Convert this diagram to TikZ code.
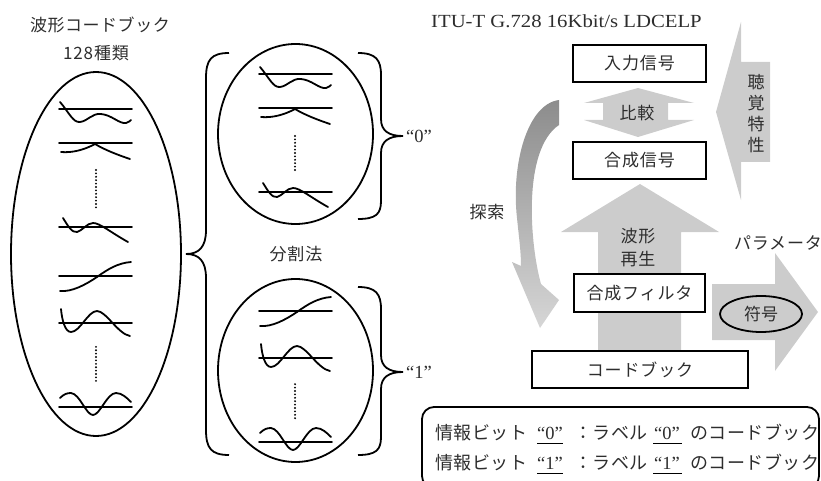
\documentclass[tikz,border=0pt]{standalone}
\usepackage{fontspec}
\usepackage{graphicx}
\setmainfont{Liberation Serif}
\newfontfamily\jp{Noto Sans CJK JP}
\usetikzlibrary{shapes.geometric}
\definecolor{agray}{RGB}{204,204,204}
\definecolor{txt}{RGB}{45,45,45}
\newcommand\wvone{\draw[wave] (59,109)--(132,109);
  \draw[wave] (60,102) .. controls (68,111) and (73,123) .. (80,122) .. controls (88,121) and (92,113) .. (101,114) .. controls (112,115) and (119,124) .. (126,123) .. controls (129,122) and (130,121) .. (131,120);}
\newcommand\wvtwo{\draw[wave] (59,143)--(132,143);
  \draw[wave] (61,152) .. controls (72,153) and (84,150) .. (95,144) .. controls (105,150) and (118,155) .. (130,159);}
\newcommand\wvthree{\draw[wave] (59,227)--(132,227);
  \draw[wave] (63,218) .. controls (68,226) and (72,233) .. (77,232) .. controls (82,231) and (87,223) .. (93,223) .. controls (100,223) and (110,232) .. (128,242);}
\newcommand\wvfour{\draw[wave] (59,276)--(132,276);
  \draw[wave] (60,291) .. controls (72,292) and (85,285) .. (97,277) .. controls (108,269) and (118,263) .. (131,262);}
\newcommand\wvfive{\draw[wave] (59,323)--(132,323);
  \draw[wave] (61,309) .. controls (62,320) and (65,332) .. (71,332) .. controls (80,332) and (88,311) .. (97,311) .. controls (106,311) and (118,334) .. (130,336);}
\newcommand\wvsix{\draw[wave] (59,407)--(132,407);
  \draw[wave] (60,398) .. controls (64,394) and (67,393) .. (71,393) .. controls (80,394) and (86,415) .. (93,415) .. controls (100,415) and (107,393) .. (116,393) .. controls (122,393) and (127,398) .. (131,402);}
\newcommand\dotcol[3]{\foreach \yy in {#2,...,#3} {\fill (#1,\yy*3.4) circle (1.05pt);}}
\begin{document}
\begin{tikzpicture}[x=1pt,y=-1pt,
  wave/.style={line width=1.8pt, line cap=round},
  ring/.style={ellipse, draw, line width=1.8pt, inner sep=0pt},
  brace/.style={line width=1.8pt},
  jt/.style={text=txt, inner sep=0pt, font=\jp\fontsize{17}{20}\selectfont\addfontfeatures{LetterSpace=5}},
  lt/.style={text=txt, inner sep=0pt, font=\fontsize{18.5}{20}\selectfont},
  boxn/.style={draw, line width=1.8pt, fill=white, inner sep=0pt, text=txt, font=\jp\fontsize{17}{20}\selectfont\addfontfeatures{LetterSpace=5}},
  arrowfill/.style={fill=agray, draw=none}
]
\useasboundingbox (0,0) rectangle (821,481);
% ---------- left: codebook ----------
\node[jt, font=\jp\fontsize{17}{20}\selectfont\addfontfeatures{LetterSpace=3}] (t1) at (100,25) {波形コードブック};
\node[jt] (t2) at (96,53) {128種類};
\node[ring, minimum width=170pt, minimum height=364pt] (big) at (96,254) {};
\wvone \wvtwo \wvthree \wvfour \wvfive \wvsix
\dotcol{96}{50}{61}
\dotcol{96}{102}{112}
% ---------- braces ----------
\coordinate (lbtip) at (186,254);
\draw[brace] (229,53) .. controls (211,53) and (206,60) .. (206,78) -- (206,230) .. controls (206,247) and (199,254) .. (lbtip) .. controls (199,254) and (206,261) .. (206,278) -- (206,430) .. controls (206,448) and (211,455) .. (229,455);
\coordinate (r0tip) at (403,136);
\draw[brace] (358,53) .. controls (376,53) and (381,60) .. (381,75) -- (381,119) .. controls (381,131) and (389,136) .. (r0tip) .. controls (389,136) and (381,141) .. (381,153) -- (381,201) .. controls (381,214) and (376,219) .. (358,219);
\coordinate (r1tip) at (403,372);
\draw[brace] (358,287) .. controls (376,287) and (381,294) .. (381,309) -- (381,355) .. controls (381,367) and (389,372) .. (r1tip) .. controls (389,372) and (381,377) .. (381,389) -- (381,437) .. controls (381,450) and (376,455) .. (358,455);
% ---------- split codebooks ----------
\node[ring, minimum width=155pt, minimum height=180pt] (cb0) at (295.5,134) {};
\node[ring, minimum width=155pt, minimum height=183pt] (cb1) at (295.5,370.5) {};
\begin{scope}[shift={(200,-35)}]
\wvone \wvtwo \wvthree
\end{scope}
\begin{scope}[shift={(200,35)}]
\wvfour \wvfive \wvsix
\end{scope}
\dotcol{295}{40}{50}
\dotcol{295}{113}{123}
\node[jt] (split) at (296,254) {分割法};
\node[lt, anchor=west] (l0) at (406,136) {“0”};
\node[lt, anchor=west] (l1) at (406,372) {“1”};
% ---------- right: LD-CELP ----------
\node[lt, anchor=west] (itu) at (431,21) {\scalebox{1.12}[1]{ITU-T G.728 16Kbit/s LDCELP}};
% auditory arrow
\fill[arrowfill] (716,112) -- (741,22) -- (741,62) -- (770,62) -- (770,162) -- (741,162) -- (741,200) -- cycle;
\node[jt] (ch1) at (756,82) {聴};
\node[jt] (ch2) at (756,103) {覚};
\node[jt] (ch3) at (756,124) {特};
\node[jt] (ch4) at (756,145) {性};
% compare arrow
\fill[arrowfill] (638,88) -- (694,103) -- (668,103) -- (668,120) -- (694,120) -- (638,137) -- (584,120) -- (603,120) -- (603,103) -- (584,103) -- cycle;
\node[jt] (cmp) at (637,113) {比較};
% big up arrow
\fill[arrowfill] (640,184) -- (719,232) -- (681,232) -- (681,360) -- (598,360) -- (598,232) -- (561,232) -- cycle;
\node[jt] (rep1) at (638,236) {波形};
\node[jt] (rep2) at (638,259) {再生};
% parameter arrow
\fill[arrowfill] (712,284) -- (775,284) -- (775,253) -- (818,312) -- (775,371) -- (775,340) -- (712,340) -- cycle;
\node[jt] (param) at (778,243) {パラメータ};
% search curved arrow
\shade[top color=black!45, bottom color=black!16, draw=none]
  (559,100) .. controls (527,104) and (511,165) .. (517,218)
  .. controls (519,238) and (521,252) .. (521,266)
  -- (512,262) -- (540,328) -- (559,300) -- (541,284)
  .. controls (530,245) and (522,150) .. (559,125) -- cycle;
\node[jt] (srch) at (487,212) {探索};
% boxes
\node[boxn, minimum width=133pt, minimum height=37pt] (inp) at (639.5,63.5) {入力信号};
\node[boxn, minimum width=133pt, minimum height=37pt] (syn) at (639.5,160.5) {合成信号};
\node[boxn, minimum width=131pt, minimum height=38pt] (filt) at (639.5,293) {合成フィルタ};
\node[boxn, minimum width=216pt, minimum height=37pt] (cbk) at (640,369.5) {コードブック};
\node[ring, fill=agray, minimum width=82pt, minimum height=36pt, text=txt, font=\jp\fontsize{17}{20}\selectfont] (code) at (761,314) {符号};
% ---------- legend ----------
\begin{scope}
\clip (0,0) rectangle (821,481);
\draw[line width=1.8pt, rounded corners=12pt] (422,407) rectangle (819,488);
\end{scope}
\tikzset{lg/.style={text=txt, inner sep=0pt, anchor=base west, font=\jp\fontsize{18}{20}\selectfont\addfontfeatures{LetterSpace=3}},
  lq/.style={text=txt, inner sep=0pt, anchor=base, font=\fontsize{18.5}{20}\selectfont}}
\node[lg] (a1) at (435,439) {情報ビット};
\node[lq] (a2) at (550,439) {“0”};
\node[lg] (a3) at (574,439) {：ラベル};
\node[lq] (a4) at (667,439) {“0”};
\node[lg] (a5) at (690,439) {のコードブック};
\node[lg] (b1) at (435,469) {情報ビット};
\node[lq] (b2) at (550,469) {“1”};
\node[lg] (b3) at (574,469) {：ラベル};
\node[lq] (b4) at (667,469) {“1”};
\node[lg] (b5) at (690,469) {のコードブック};
\draw[line width=1pt] (537,443) -- (563,443) (653,443) -- (682,443);
\draw[line width=1pt] (537,473) -- (563,473) (653,473) -- (682,473);
\end{tikzpicture}
\end{document}
